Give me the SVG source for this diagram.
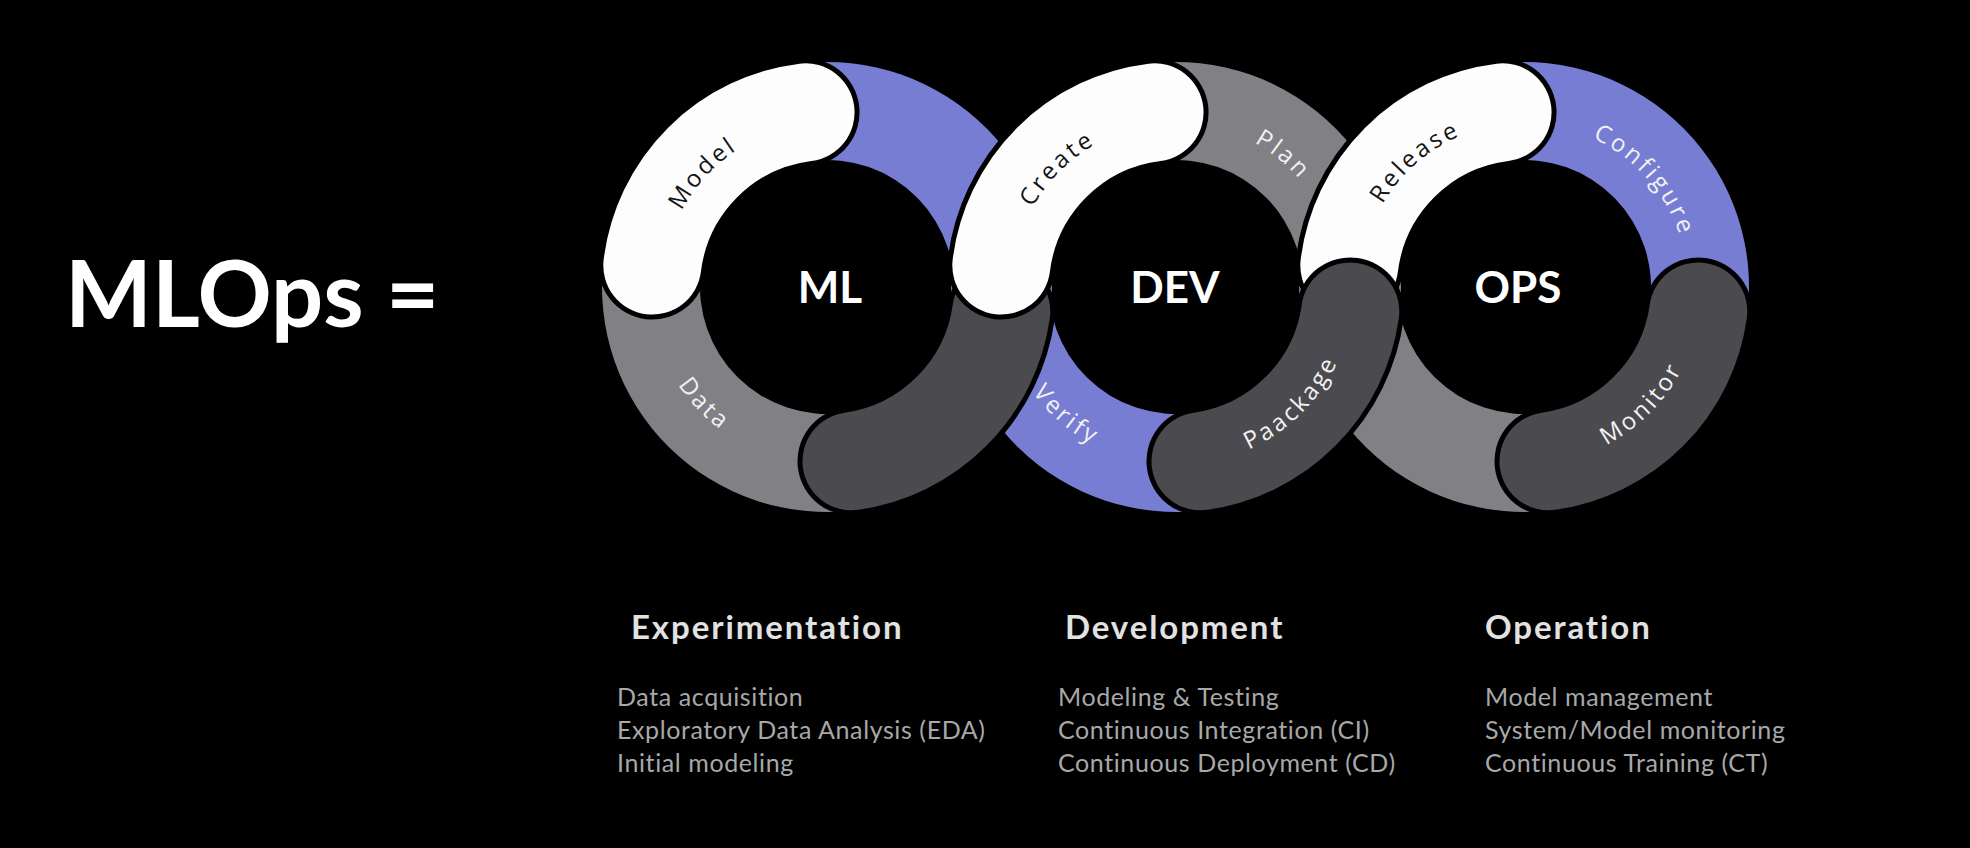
<svg xmlns="http://www.w3.org/2000/svg" xmlns:xlink="http://www.w3.org/1999/xlink" width="1970" height="848" viewBox="0 0 1970 848">
<style>
  .blue { fill: #787dd4; }
  .gray { fill: #808085; }
  .outline { fill: none; stroke: #000; stroke-width: 108; stroke-linecap: round; }
  .pw { fill: none; stroke: #fdfdfd; stroke-width: 98; stroke-linecap: round; }
  .pd { fill: none; stroke: #4b4b4f; stroke-width: 98; stroke-linecap: round; }
  .lbl { font-family: "Open Sans", "Noto Sans", sans-serif; font-size: 24px; letter-spacing: 3px; text-anchor: middle; }
  .lw { fill: #f2f2f2; }
  .lk { fill: #141414; }
  .center { font-family: Lato, "Liberation Sans", sans-serif; font-weight: 700; font-size: 44px; fill: #ffffff; text-anchor: middle; }
  .title { font-family: Lato, "Liberation Sans", sans-serif; font-weight: 700; font-size: 92px; fill: #ffffff; }
  .head { font-family: Lato, "Liberation Sans", sans-serif; font-weight: 700; font-size: 33px; letter-spacing: 1.9px; fill: #e2e2e2; }
  .sub { font-family: Lato, "Liberation Sans", sans-serif; font-size: 25px; letter-spacing: 0.6px; fill: #a8a8a8; }
</style>
<defs>
  <path id="secA" d="M222.81,31.31 A225,225 0 0 0 -27.42,-223.32 L-15.48,-126.05 A127,127 0 0 1 125.76,17.67 Z"/>
  <path id="secB" d="M-223.32,-27.42 A225,225 0 0 0 31.31,222.81 L17.67,125.76 A127,127 0 0 1 -126.05,-15.48 Z"/>
  <path id="pillTL" d="M-21.45,-174.69 A176,176 0 0 0 -174.69,-21.45"/>
  <path id="pillBR" d="M24.49,174.29 A176,176 0 0 0 174.29,24.49"/>
  <path id="arcTop" d="M-154.1,-56.1 A164,164 0 0 1 154.1,-56.1"/>
  <path id="arcBot" d="M-167.3,60.9 A178,178 0 0 0 167.3,60.9"/>
</defs>
<rect x="0" y="0" width="1970" height="848" fill="#000"/>

<g id="title">
  <text class="title" x="65" y="327">MLOps =</text>
</g>

<!-- flat segments -->
<g id="ml-top-right" transform="translate(827,287)">
  <use href="#secA" class="blue"/>
</g>
<g id="ml-data" transform="translate(827,287)">
  <use href="#secB" class="gray"/>
  <g transform="rotate(46.4)"><text class="lbl lw"><textPath href="#arcBot" startOffset="50%">Data</textPath></text></g>
</g>
<g id="dev-plan" transform="translate(1176,287)">
  <use href="#secA" class="gray"/>
  <g transform="rotate(39)"><text class="lbl lw"><textPath href="#arcTop" startOffset="50%">Plan</textPath></text></g>
</g>
<g id="dev-verify" transform="translate(1176,287)">
  <use href="#secB" class="blue"/>
  <g transform="rotate(40.6)"><text class="lbl lw"><textPath href="#arcBot" startOffset="50%">Verify</textPath></text></g>
</g>
<g id="ops-configure" transform="translate(1524,287)">
  <use href="#secA" class="blue"/>
  <g transform="rotate(48.5)"><text class="lbl lw"><textPath href="#arcTop" startOffset="50%">Configure</textPath></text></g>
</g>
<g id="ops-bottom-left" transform="translate(1524,287)">
  <use href="#secB" class="gray"/>
</g>

<!-- pill segments: ML and OPS -->
<g id="ml-model" transform="translate(827,287)">
  <use href="#pillTL" class="outline"/>
  <use href="#pillTL" class="pw"/>
  <g transform="rotate(-47.5)"><text class="lbl lk"><textPath href="#arcTop" startOffset="50%">Model</textPath></text></g>
</g>
<g id="ml-bottom-right" transform="translate(827,287)">
  <use href="#pillBR" class="outline"/>
  <use href="#pillBR" class="pd"/>
</g>
<g id="ops-release" transform="translate(1524,287)">
  <use href="#pillTL" class="outline"/>
  <use href="#pillTL" class="pw"/>
  <g transform="rotate(-41)"><text class="lbl lk"><textPath href="#arcTop" startOffset="50%">Release</textPath></text></g>
</g>
<g id="ops-monitor" transform="translate(1524,287)">
  <use href="#pillBR" class="outline"/>
  <use href="#pillBR" class="pd"/>
  <g transform="rotate(-45.2)"><text class="lbl lw"><textPath href="#arcBot" startOffset="50%">Monitor</textPath></text></g>
</g>

<!-- pill segments: DEV (on top) -->
<g id="dev-create" transform="translate(1176,287)">
  <use href="#pillTL" class="outline"/>
  <use href="#pillTL" class="pw"/>
  <g transform="rotate(-45)"><text class="lbl lk"><textPath href="#arcTop" startOffset="50%">Create</textPath></text></g>
</g>
<g id="dev-package" transform="translate(1176,287)">
  <use href="#pillBR" class="outline"/>
  <use href="#pillBR" class="pd"/>
  <g transform="rotate(-44.8)"><text class="lbl lw"><textPath href="#arcBot" startOffset="50%">Paackage</textPath></text></g>
</g>

<!-- ring centers -->
<g id="ml-center"><text class="center" x="830" y="303">ML</text></g>
<g id="dev-center"><text class="center" x="1175" y="303">DEV</text></g>
<g id="ops-center"><text class="center" x="1518" y="303">OPS</text></g>

<!-- phase descriptions -->
<g id="experimentation">
  <text class="head" x="631" y="639">Experimentation</text>
  <text class="sub" x="617" y="706">Data acquisition</text>
  <text class="sub" x="617" y="739">Exploratory Data Analysis (EDA)</text>
  <text class="sub" x="617" y="772">Initial modeling</text>
</g>
<g id="development">
  <text class="head" x="1065" y="639">Development</text>
  <text class="sub" x="1058" y="706">Modeling &amp; Testing</text>
  <text class="sub" x="1058" y="739">Continuous Integration (CI)</text>
  <text class="sub" x="1058" y="772">Continuous Deployment (CD)</text>
</g>
<g id="operation">
  <text class="head" x="1485" y="639">Operation</text>
  <text class="sub" x="1485" y="706">Model management</text>
  <text class="sub" x="1485" y="739">System/Model monitoring</text>
  <text class="sub" x="1485" y="772">Continuous Training (CT)</text>
</g>
<g id="connectors"></g>
</svg>
